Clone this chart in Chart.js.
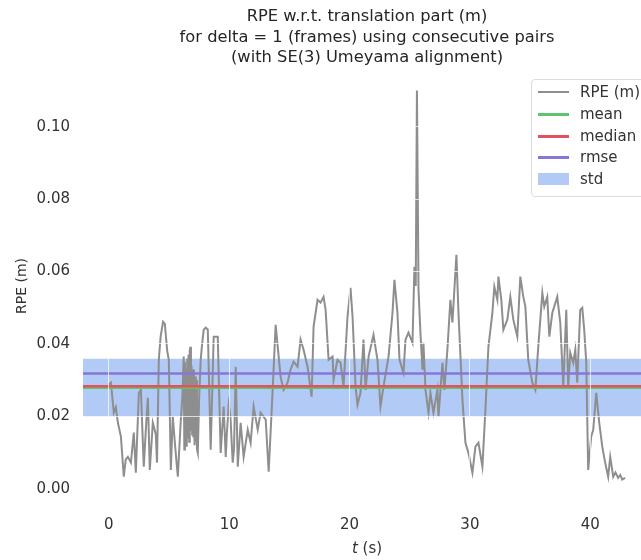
<!DOCTYPE html>
<html><head><meta charset="utf-8">
<script src="https://cdn.jsdelivr.net/npm/chart.js@4.4.0/dist/chart.umd.min.js"></script>
<style>
html,body{margin:0;padding:0;background:#fff;overflow:hidden;}
#wrap{position:relative;width:641px;height:560px;overflow:hidden;}
#box{position:absolute;left:0;top:0;width:680px;height:560px;}
#legend{position:absolute;left:531px;top:79px;width:130px;height:116px;border:1px solid #dcdcdc;border-radius:4px;background:rgba(255,255,255,0.85);font:15px "DejaVu Sans";color:#333;}
.item{position:absolute;left:0;height:20px;width:130px;}
.swatch{position:absolute;left:6px;width:31px;}
.lbl{position:absolute;left:48px;top:0;line-height:20px;white-space:nowrap;}
#xtitle{position:absolute;left:317px;width:100px;top:538px;text-align:center;font:15px "DejaVu Sans";color:#333;line-height:20px;}
</style></head>
<body>
<div id="wrap">
<div id="box"><canvas id="c"></canvas></div>
<div id="legend"></div>
<div id="xtitle"><i>t</i> (s)</div>
</div>
<script>
// ---- data ----
const times = [0.00,0.17,0.41,0.58,0.75,1.00,1.24,1.40,1.58,1.83,2.07,2.24,2.49,2.66,2.90,3.10,3.24,3.40,3.65,3.90,4.00,4.15,4.30,4.50,4.65,4.85,4.98,5.15,5.31,5.50,5.73,5.98,6.10,6.22,6.27,6.32,6.37,6.42,6.47,6.52,6.57,6.62,6.67,6.72,6.77,6.82,6.87,6.92,6.97,7.02,7.07,7.12,7.17,7.22,7.27,7.32,7.39,7.50,7.63,7.75,7.88,8.05,8.22,8.46,8.71,9.05,9.13,9.29,9.54,9.71,9.80,9.96,10.10,10.29,10.40,10.54,10.71,10.95,11.20,11.54,11.78,12.03,12.37,12.61,13.03,13.28,13.61,13.86,14.11,14.27,14.52,14.85,15.10,15.35,15.68,15.93,16.18,16.51,16.85,17.01,17.34,17.59,17.84,18.01,18.26,18.59,18.67,19.00,19.25,19.50,19.83,20.08,20.25,20.50,20.66,20.91,21.16,21.33,21.58,21.99,22.32,22.57,22.82,23.24,23.57,23.73,23.98,24.15,24.48,24.65,24.90,25.23,25.39,25.50,25.60,25.73,25.89,26.06,26.14,26.31,26.56,26.72,26.97,27.30,27.39,27.72,27.88,28.13,28.38,28.55,28.88,29.05,29.38,29.63,29.88,30.21,30.46,30.71,31.04,31.29,31.54,31.87,32.03,32.28,32.37,32.61,32.78,33.11,33.36,33.61,33.94,34.19,34.44,34.61,34.85,35.19,35.44,35.68,36.02,36.18,36.43,36.60,36.85,37.26,37.51,37.76,38.01,38.17,38.34,38.59,38.76,38.92,39.17,39.34,39.50,39.67,39.83,40.08,40.25,40.50,40.75,41.00,41.24,41.49,41.66,41.91,42.10,42.32,42.50,42.66,42.90];
const rpe = [0.0288,0.0293,0.0210,0.0225,0.0182,0.0144,0.0033,0.0080,0.0088,0.0072,0.0155,0.0044,0.0265,0.0273,0.0061,0.0180,0.0251,0.0052,0.0182,0.0150,0.0072,0.0356,0.0420,0.0461,0.0455,0.0380,0.0356,0.0052,0.0199,0.0120,0.0033,0.0191,0.0250,0.0365,0.0108,0.0350,0.0120,0.0330,0.0116,0.0360,0.0140,0.0370,0.0130,0.0380,0.0392,0.0160,0.0340,0.0150,0.0330,0.0144,0.0329,0.0120,0.0310,0.0130,0.0300,0.0110,0.0099,0.0250,0.0356,0.0400,0.0439,0.0445,0.0440,0.0108,0.0420,0.0420,0.0309,0.0099,0.0227,0.0088,0.0150,0.0232,0.0200,0.0072,0.0110,0.0337,0.0061,0.0182,0.0088,0.0163,0.0127,0.0227,0.0163,0.0210,0.0191,0.0047,0.0273,0.0453,0.0365,0.0309,0.0273,0.0293,0.0329,0.0351,0.0337,0.0412,0.0384,0.0337,0.0254,0.0448,0.0522,0.0514,0.0530,0.0494,0.0356,0.0365,0.0301,0.0356,0.0348,0.0282,0.0475,0.0555,0.0475,0.0282,0.0232,0.0265,0.0412,0.0273,0.0365,0.0425,0.0356,0.0227,0.0282,0.0365,0.0486,0.0577,0.0486,0.0356,0.0320,0.0412,0.0431,0.0403,0.0613,0.0560,0.1100,0.0550,0.0431,0.0329,0.0403,0.0273,0.0210,0.0265,0.0210,0.0273,0.0199,0.0348,0.0273,0.0384,0.0522,0.0459,0.0646,0.0486,0.0246,0.0127,0.0099,0.0044,0.0116,0.0127,0.0061,0.0218,0.0392,0.0486,0.0558,0.0522,0.0586,0.0522,0.0439,0.0467,0.0530,0.0467,0.0420,0.0586,0.0530,0.0503,0.0356,0.0293,0.0273,0.0392,0.0541,0.0503,0.0530,0.0420,0.0486,0.0530,0.0459,0.0282,0.0494,0.0282,0.0376,0.0348,0.0384,0.0293,0.0494,0.0500,0.0439,0.0348,0.0052,0.0144,0.0163,0.0265,0.0182,0.0116,0.0072,0.0033,0.0088,0.0033,0.0045,0.0030,0.0038,0.0025,0.0030];
const statNames = ['mean','median','rmse'];
const statValues = [0.0279, 0.0283, 0.0318];
const stdValue = 0.0080;
const xTicks = [0,10,20,30,40];
const yTicks = [0.00,0.02,0.04,0.06,0.08,0.10];
const xLimits = [-2.15, 45.05];
const yLimits = [-0.0034, 0.1154];
// ---- styles ----
const FONT = '"DejaVu Sans", sans-serif';
const TXT = '#333333';
const statColors = ['#5cc46e','#e3525a','#8876d6'];
const stdColor = 'rgba(100,149,237,0.5)';
const lineColor = '#8e8e8e';

const hline = v => [{x:xLimits[0],y:v},{x:xLimits[1],y:v}];
const mean = statValues[0];
const datasets = [];
datasets.push({label:'std_upper', data:hline(mean+stdValue), borderWidth:0, pointRadius:0, fill:false, order:20, borderColor:'rgba(0,0,0,0)'});
datasets.push({label:'std', data:hline(mean-stdValue), borderWidth:0, pointRadius:0, fill:'-1', backgroundColor:stdColor, borderColor:'rgba(0,0,0,0)', order:19});
datasets.push({label:'RPE (m)', data:times.map((t,i)=>({x:t,y:rpe[i]})), borderColor:lineColor, borderWidth:2, pointRadius:0, fill:false, order:5, tension:0});
statNames.forEach((n,i)=>{
  datasets.push({label:n, data:hline(statValues[i]), borderColor:statColors[i], borderWidth:2.5, pointRadius:0, fill:false, order:3-i});
});

const chart = new Chart(document.getElementById('c'), {
  type:'line',
  data:{datasets},
  options:{
    responsive:true, maintainAspectRatio:false, animation:false,
    layout:{padding:{left:0,right:29,top:0,bottom:0}},
    plugins:{
      legend:{display:false}, tooltip:{enabled:false},
      title:{display:true, fullSize:false, color:'#262626',
        text:['RPE w.r.t. translation part (m)','for delta = 1 (frames) using consecutive pairs','(with SE(3) Umeyama alignment)'],
        font:{family:FONT,size:16.3,weight:'normal',lineHeight:1.26}, padding:{top:6.7,bottom:2.7}}
    },
    scales:{
      x:{type:'linear', min:xLimits[0], max:xLimits[1],
        afterBuildTicks:s=>{s.ticks = xTicks.map(v=>({value:v}));},
        afterFit:s=>{s.height = 59;},
        grid:{color:'rgba(255,255,255,0.7)', drawTicks:false, z:1},
        border:{display:false},
        ticks:{padding:15, color:TXT, font:{family:FONT,size:15}, callback:v=>String(v), maxRotation:0}
      },
      y:{type:'linear', min:yLimits[0], max:yLimits[1],
        afterBuildTicks:s=>{s.ticks = yTicks.map(v=>({value:v}));},
        afterFit:s=>{s.width = 83;},
        grid:{color:'rgba(255,255,255,0.7)', drawTicks:false, z:1},
        border:{display:false},
        ticks:{padding:13, color:TXT, font:{family:FONT,size:15}, callback:v=>Number(v).toFixed(2)},
        title:{display:true, text:'RPE (m)', color:TXT, font:{family:FONT,size:14}, padding:{top:14,bottom:0}}
      }
    }
  }
});

// HTML legend built from the chart datasets
const legendOrder = ['RPE (m)','mean','median','rmse','std'];
const leg = document.getElementById('legend');
legendOrder.forEach((name,i)=>{
  const ds = chart.data.datasets.find(d=>d.label===name);
  const it = document.createElement('div');
  it.className='item'; it.style.top = (2 + i*21.8) + 'px';
  const sw = document.createElement('div'); sw.className='swatch';
  if(name==='std'){ sw.style.top='4px'; sw.style.height='12px'; sw.style.background=ds.backgroundColor; }
  else { sw.style.top='9px'; sw.style.height=(name==='RPE (m)'?2:3)+'px'; sw.style.background=ds.borderColor; }
  const lb = document.createElement('div'); lb.className='lbl'; lb.textContent=name;
  it.appendChild(sw); it.appendChild(lb); leg.appendChild(it);
});
</script>
</body></html>
